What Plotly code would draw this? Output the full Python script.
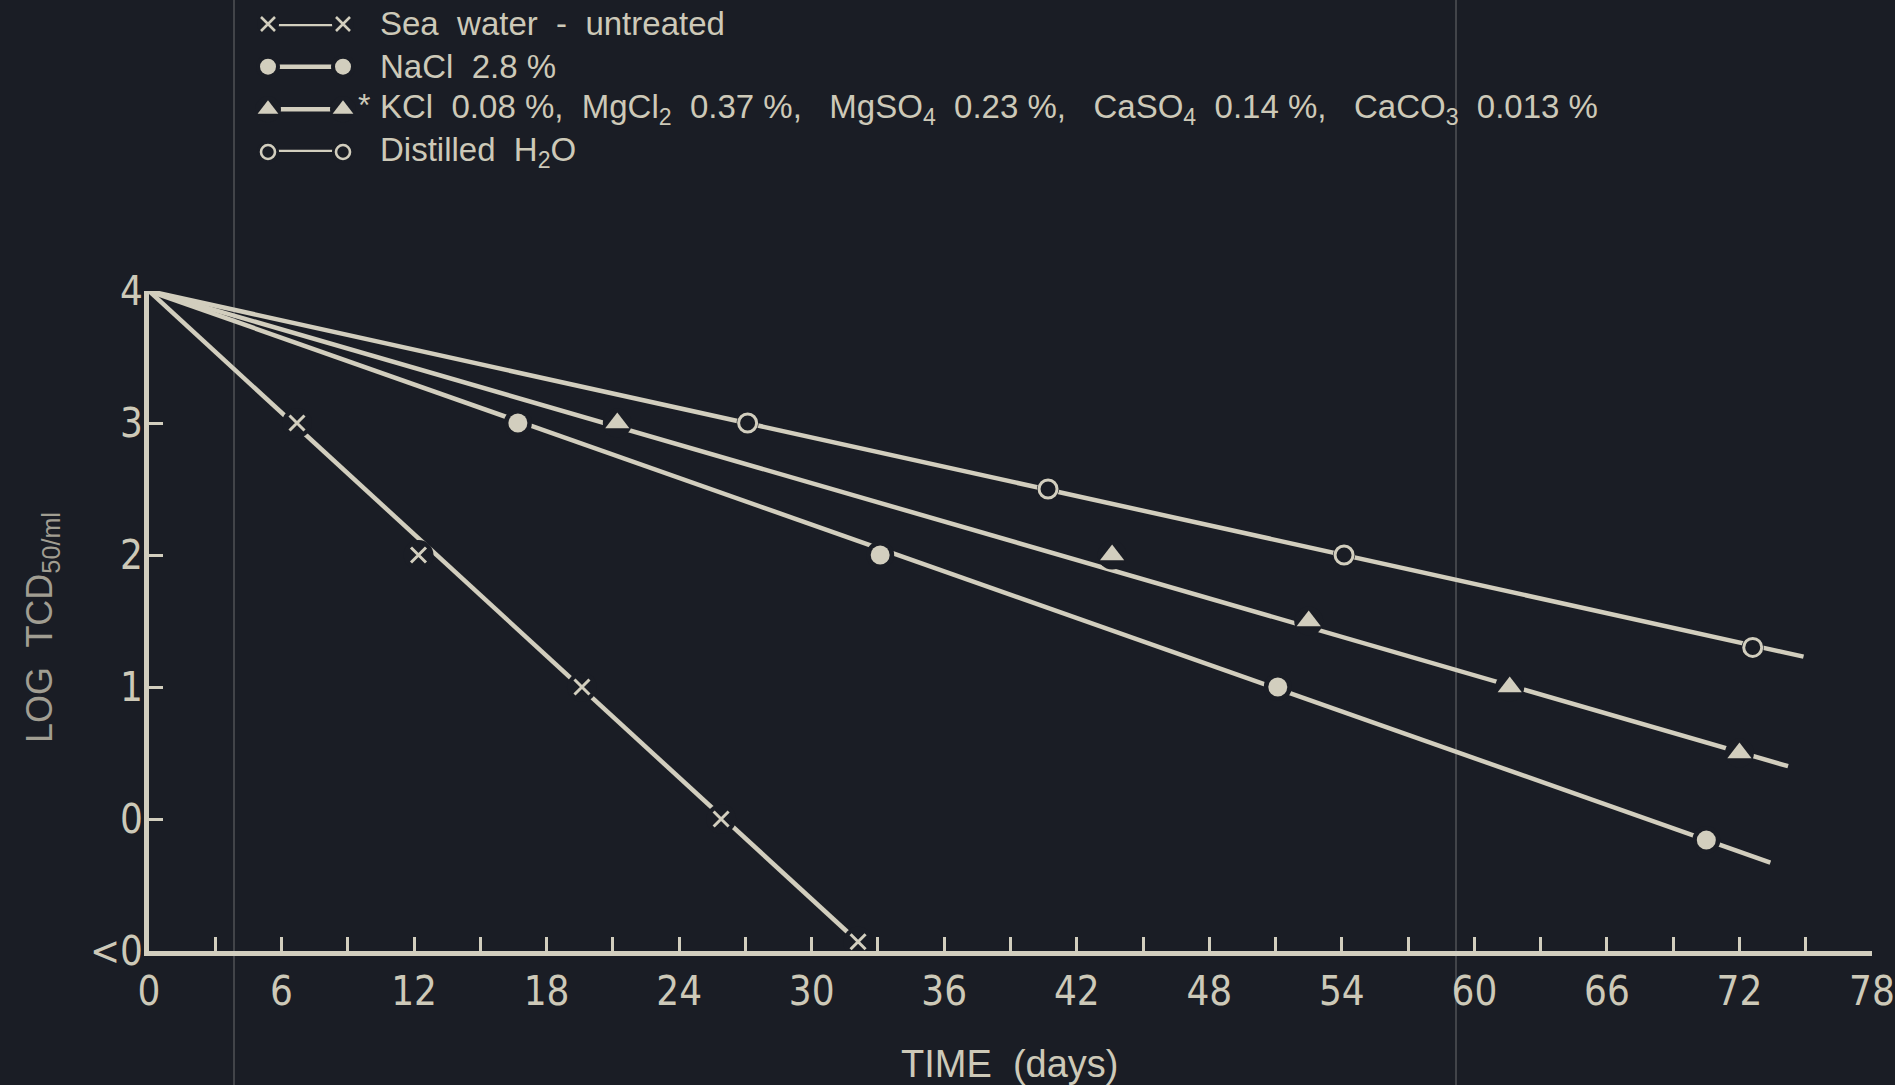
import plotly.graph_objects as go

# ---- data: log TCD50/ml versus storage time (days) ----
days_sea = [6.7, 12.2, 19.6, 25.9, 32.1]
log_sea = [3.0, 2.0, 1.0, 0.0, -0.93]
fit_days_sea = [0, 32.1]
fit_log_sea = [4.0, -0.93]

days_nacl = [16.7, 33.1, 51.1, 70.5]
log_nacl = [3.0, 2.0, 1.0, -0.16]
fit_days_nacl = [0, 73.4]
fit_log_nacl = [4.0, -0.33]

days_salts = [21.2, 43.6, 52.5, 61.6, 72.0]
log_salts = [3.0, 2.0, 1.5, 1.0, 0.5]
fit_days_salts = [0, 74.2]
fit_log_salts = [4.0, 0.40]

days_dist = [27.1, 40.7, 54.1, 72.6]
log_dist = [3.0, 2.5, 2.0, 1.3]
fit_days_dist = [0, 74.9]
fit_log_dist = [4.0, 1.23]

x_ticks = list(range(0, 79, 3))
x_labels = [str(v) if v % 6 == 0 else "" for v in x_ticks]
y_ticks = [-1, 0, 1, 2, 3, 4]
y_labels = ["<0", "0", "1", "2", "3", "4"]

legend_labels = [
    "Sea  water  -  untreated",
    "NaCl  2.8 %",
    "KCl  0.08 %,  MgCl<sub>2</sub>  0.37 %,   MgSO<sub>4</sub>  0.23 %,   "
    "CaSO<sub>4</sub>  0.14 %,   CaCO<sub>3</sub>  0.013 %",
    "Distilled  H<sub>2</sub>O",
]

# ---- styling ----
BG = "#1a1d25"
INK = "#d2cebe"
TEXT = "#cdc9b8"
DIM = "#a19e92"
NARROW = "Liberation Sans Narrow, DejaVu Sans Condensed, Arial Narrow, sans-serif"
SANS = "Liberation Sans, Arial, sans-serif"

W, H = 1895, 1085
X0, X1 = 149, 1872      # pixel extent of the time axis
YT, YB = 291, 951       # pixel extent of the log axis

markers = [
    dict(symbol="x-thin", size=15, color=INK, line=dict(color=INK, width=3)),
    dict(symbol="circle", size=19, color=INK, line=dict(width=0)),
    dict(symbol="triangle-up", size=21, color=INK, line=dict(width=0)),
    dict(symbol="circle", size=18, color=BG, line=dict(color=INK, width=3)),
]
mask_sizes = [30, 28, 29, 22]
legend_markers = [
    dict(symbol="x-thin", size=14, color=INK, line=dict(color=INK, width=2.6)),
    dict(symbol="circle", size=16, color=INK, line=dict(width=0)),
    dict(symbol="triangle-up", size=18, color=INK, line=dict(width=0)),
    dict(symbol="circle", size=14, color=BG, line=dict(color=INK, width=2.6)),
]

series = [
    (days_sea, log_sea, fit_days_sea, fit_log_sea),
    (days_nacl, log_nacl, fit_days_nacl, fit_log_nacl),
    (days_salts, log_salts, fit_days_salts, fit_log_salts),
    (days_dist, log_dist, fit_days_dist, fit_log_dist),
]

fig = go.Figure()

# straight decay lines
for d, l, fd, fl in series:
    fig.add_trace(go.Scatter(x=fd, y=fl, mode="lines",
                             line=dict(color=INK, width=4.5), hoverinfo="skip",
                             showlegend=False, cliponaxis=False))
# small gaps in the lines around each plotted point
for (d, l, fd, fl), ms in zip(series, mask_sizes):
    fig.add_trace(go.Scatter(x=d, y=l, mode="markers",
                             marker=dict(symbol="circle", size=ms, color=BG),
                             hoverinfo="skip", showlegend=False, cliponaxis=False))
for (d, l, fd, fl), mk in zip(series, markers):
    fig.add_trace(go.Scatter(x=d, y=l, mode="markers", marker=mk,
                             showlegend=False, cliponaxis=False))

# hand-drawn style key in the top-left corner
rows = list(range(len(legend_labels)))
for r, mk in zip(rows, legend_markers):
    fig.add_trace(go.Scatter(x=[0, 1], y=[r, r], mode="lines", xaxis="x2", yaxis="y2",
                             line=dict(color=INK, width=4.5), hoverinfo="skip",
                             showlegend=False, cliponaxis=False))
    fig.add_trace(go.Scatter(x=[0, 1], y=[r, r], mode="markers", xaxis="x2", yaxis="y2",
                             marker=dict(symbol="circle", size=mk["size"] + 8, color=BG),
                             hoverinfo="skip", showlegend=False, cliponaxis=False))
    fig.add_trace(go.Scatter(x=[0, 1], y=[r, r], mode="markers", xaxis="x2", yaxis="y2",
                             marker=mk, hoverinfo="skip", showlegend=False,
                             cliponaxis=False))

# carrier trace for the labelled log axis
fig.add_trace(go.Scatter(x=[None], y=[None], yaxis="y3", showlegend=False,
                         hoverinfo="skip"))

annotations = []
for r, txt in zip(rows, legend_labels):
    annotations.append(dict(text=txt, xref="paper", yref="y2", x=378 / W, y=r,
                            xanchor="left", yanchor="middle", showarrow=False,
                            font=dict(family=SANS, size=33, color=TEXT)))
annotations.append(dict(text="*", xref="paper", yref="y2", x=356 / W, y=2,
                        xanchor="left", yanchor="middle", yshift=4, showarrow=False,
                        font=dict(family=SANS, size=32, color=TEXT)))
annotations.append(dict(text="TIME  (days)", xref="paper", yref="paper",
                        x=1009 / W, y=1 - 1064 / H, xanchor="center", yanchor="middle",
                        showarrow=False, font=dict(family=SANS, size=38, color=TEXT)))
annotations.append(dict(text="LOG  TCD<sub>50/ml</sub>", xref="paper", yref="paper",
                        x=42 / W, y=1 - 628 / H, xanchor="center", yanchor="middle",
                        textangle=-90, showarrow=False,
                        font=dict(family=SANS, size=36, color=DIM)))

# faint vertical creases across the sheet
shapes = [dict(type="line", xref="paper", yref="paper", x0=px / W, x1=px / W,
               y0=0, y1=1, line=dict(color="rgba(205,205,200,0.45)", width=1))
          for px in (234, 1456)]

fig.update_layout(
    width=W, height=H,
    margin=dict(l=0, r=0, t=0, b=0),
    paper_bgcolor=BG, plot_bgcolor=BG,
    showlegend=False,
    annotations=annotations,
    shapes=shapes,
    xaxis=dict(domain=[X0 / W, X1 / W], range=[0, 78], tickmode="array",
               tickvals=x_ticks, ticktext=x_labels, ticks="inside", ticklen=14,
               tickwidth=3, tickcolor=INK, showline=True, linewidth=4.5, linecolor=INK,
               showgrid=False, zeroline=False, automargin=False,
               ticklabelstandoff=1,
               tickfont=dict(family=NARROW, size=40, color=TEXT)),
    yaxis=dict(domain=[1 - YB / H, 1 - YT / H], range=[-1, 4], tickmode="array",
               tickvals=[0, 1, 2, 3], showticklabels=False, ticks="inside",
               ticklen=14, tickwidth=3, tickcolor=INK, showline=True, linewidth=4.5,
               linecolor=INK, showgrid=False, zeroline=False, automargin=False),
    yaxis3=dict(overlaying="y", range=[-1, 4], tickmode="array", tickvals=y_ticks,
                ticktext=y_labels, ticks="", showline=False, showgrid=False,
                zeroline=False, automargin=False, ticklabelstandoff=5,
                tickfont=dict(family=NARROW, size=40, color=TEXT)),
    xaxis2=dict(domain=[268 / W, 343 / W], range=[0, 1], visible=False,
                anchor="y2"),
    yaxis2=dict(domain=[1 - 152 / H, 1 - 24 / H], range=[3, 0], visible=False,
                anchor="x2"),
)

fig.write_html("out.html")
